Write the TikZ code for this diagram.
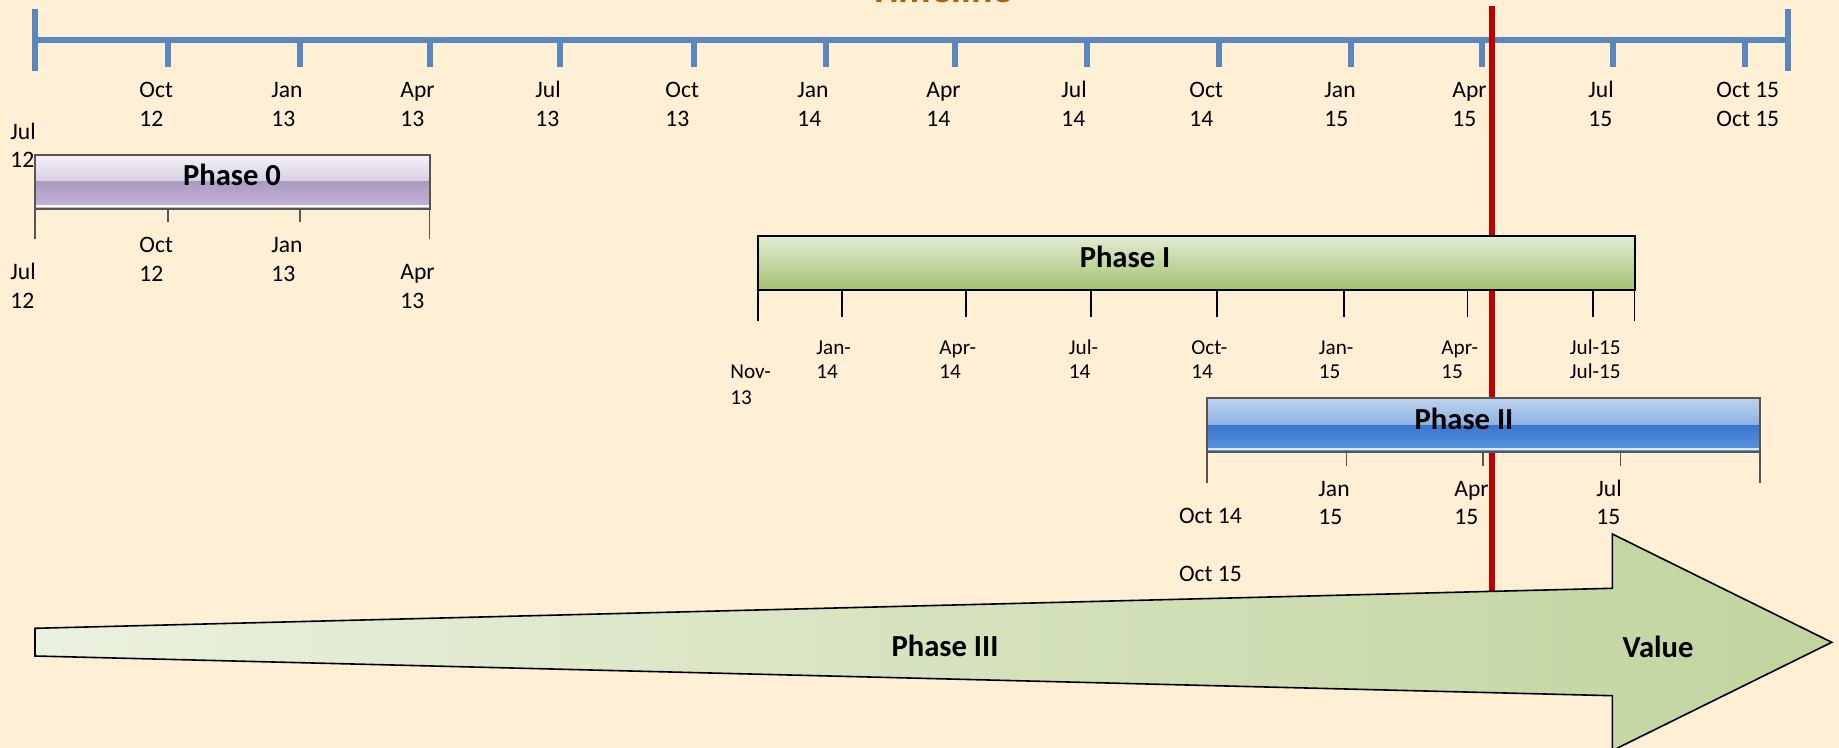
\documentclass[tikz,border=0pt]{standalone}
\usepackage{fontspec}
\setmainfont{Carlito}
\definecolor{bg}{HTML}{FFEFD4}
\definecolor{axisblue}{HTML}{5A87BD}
\definecolor{redline}{HTML}{C00000}
\definecolor{titlec}{HTML}{B85C10}
\definecolor{gray55}{HTML}{555555}
\definecolor{pzA}{HTML}{F4F2F8}
\definecolor{pzB}{HTML}{D6CEE1}
\definecolor{pzC}{HTML}{AC9BC0}
\definecolor{pzD}{HTML}{C4B5D8}
\definecolor{poA}{HTML}{E2ECD3}
\definecolor{poB}{HTML}{A3C170}
\definecolor{ptA}{HTML}{BDD3F0}
\definecolor{ptB}{HTML}{8DB1E2}
\definecolor{ptC}{HTML}{3A76CC}
\definecolor{ptD}{HTML}{5B96E6}
\definecolor{arA}{HTML}{EBF1DF}
\definecolor{arB}{HTML}{C1D49E}
\newcommand\twolbl[7]{% style, name, x, y, dy, line1, line2
  \node[#1] (#2a) at (#3,#4) {#6};
  \node[#1] (#2b) at (#3,#4+#5) {#7};}
\begin{document}
\begin{tikzpicture}[x=0.5pt,y=-0.5pt,
  lbl/.style={anchor=base west,inner sep=0pt,font=\fontsize{11.8}{14}\selectfont},
  slbl/.style={anchor=base west,inner sep=0pt,font=\fontsize{10.6}{13}\selectfont},
  phasetxt/.style={inner sep=0pt,font=\bfseries\fontsize{15.3}{18}\selectfont},
  mainaxis/.style={draw=axisblue,line width=3.25pt},
  subaxis/.style={draw=#1,line width=0.8pt},
]
\useasboundingbox (0,0) rectangle (1839,748);
\fill[bg] (0,0) rectangle (1839,748);
\clip (0,0) rectangle (1839,748);

% title (cut off at top)
\node[anchor=base,inner sep=0pt,text=titlec,font=\bfseries\fontsize{20}{24}\selectfont] (title) at (941,3) {Timeline};

% main axis
\draw[mainaxis] (35,40) -- (1788,40);
\draw[mainaxis] (35,9) -- (35,71);
\draw[mainaxis] (1788,9) -- (1788,71);
\foreach \x in {168,300,430,560,694,826,955,1087,1219,1351,1482,1613,1745}
  \draw[mainaxis] (\x,40) -- (\x,67);

% main axis labels
\twolbl{lbl}{m1}{139}{98}{29}{Oct}{12}
\twolbl{lbl}{m2}{271}{98}{29}{Jan}{13}
\twolbl{lbl}{m3}{400}{98}{29}{Apr}{13}
\twolbl{lbl}{m4}{535}{98}{29}{Jul}{13}
\twolbl{lbl}{m5}{665}{98}{29}{Oct}{13}
\twolbl{lbl}{m6}{797}{98}{29}{Jan}{14}
\twolbl{lbl}{m7}{926}{98}{29}{Apr}{14}
\twolbl{lbl}{m8}{1061}{98}{29}{Jul}{14}
\twolbl{lbl}{m9}{1189}{98}{29}{Oct}{14}
\twolbl{lbl}{m10}{1324}{98}{29}{Jan}{15}
\twolbl{lbl}{m11}{1452}{98}{29}{Apr}{15}
\twolbl{lbl}{m12}{1588}{98}{29}{Jul}{15}
\twolbl{lbl}{m13}{1716}{98}{29}{Oct 15}{Oct 15}
\twolbl{lbl}{m0}{10}{140}{28}{Jul}{12}

% Phase 0 sub axis
\draw[subaxis=gray55] (35,209) -- (35,239);
\draw[subaxis=gray55] (429.5,209) -- (429.5,239);
\draw[subaxis=gray55] (168,209) -- (168,222);
\draw[subaxis=gray55] (300,209) -- (300,222);
\twolbl{lbl}{z1}{139}{253}{29}{Oct}{12}
\twolbl{lbl}{z2}{271}{253}{29}{Jan}{13}
\twolbl{lbl}{z0}{10}{280}{28}{Jul}{12}
\twolbl{lbl}{z3}{400}{280}{28}{Apr}{13}

% Phase I sub axis
\draw[subaxis=black] (758,290) -- (758,321);
\draw[subaxis=black] (1634.5,290) -- (1634.5,321);
\foreach \x in {842,966,1090.7,1217,1344,1467.5,1593}
  \draw[subaxis=black] (\x,290) -- (\x,317);
\twolbl{slbl}{o0}{730}{379}{25}{Nov-}{13}
\twolbl{slbl}{o1}{816}{354}{25}{Jan-}{14}
\twolbl{slbl}{o2}{939}{354}{25}{Apr-}{14}
\twolbl{slbl}{o3}{1068.5}{354}{25}{Jul-}{14}
\twolbl{slbl}{o4}{1191}{354}{25}{Oct-}{14}
\twolbl{slbl}{o5}{1318.5}{354}{25}{Jan-}{15}
\twolbl{slbl}{o6}{1441}{354}{25}{Apr-}{15}
\twolbl{slbl}{o7}{1569.5}{354}{25}{Jul-15}{Jul-15}

% Phase II sub axis
\draw[subaxis=gray55] (1207,452) -- (1207,483);
\draw[subaxis=gray55] (1760,452) -- (1760,483);
\foreach \x in {1346.4,1483,1620.6}
  \draw[subaxis=gray55] (\x,452) -- (\x,466);
\twolbl{lbl}{t1}{1318}{496}{28}{Jan}{15}
\twolbl{lbl}{t2}{1454}{496}{28}{Apr}{15}
\twolbl{lbl}{t3}{1596}{496}{28}{Jul}{15}
\node[lbl] (t0a) at (1178.6,523) {Oct 14};
\node[lbl] (t0b) at (1178.6,581) {Oct 15};

% today line
\draw[redline,line width=3pt] (1492,6) -- (1492,592);

% Phase 0 bar
\shade[top color=pzA,bottom color=pzB] (35,155) rectangle (429.5,182);
\shade[top color=pzC,bottom color=pzD] (35,182) rectangle (429.5,209);
\draw[white,line width=1pt] (36,206.5) -- (428.5,206.5);
\draw[gray55,line width=1pt] (35,155) rectangle (429.5,209);
\node[phasetxt] (p0) at (232,175) {Phase 0};

% Phase I bar
\shade[top color=poA,bottom color=poB,draw=black,line width=1pt] (758,236) rectangle (1634.5,290);
\node[phasetxt] (p1) at (1125,257) {Phase I};

% Phase II bar
\shade[top color=ptA,bottom color=ptB] (1207,398) rectangle (1760,425);
\shade[top color=ptC,bottom color=ptD] (1207,425) rectangle (1760,452);
\draw[white!80!ptD,line width=1pt] (1208,449) -- (1759,449);
\draw[gray55,line width=1pt] (1207,398) rectangle (1760,452);
\node[phasetxt] (p2) at (1464,419) {Phase II};

% Phase III arrow
\shade[left color=arA,right color=arB,draw=black,line width=0.8pt,line join=miter]
  (35,628.3) -- (1612.3,588.3) -- (1612.3,534) -- (1831.7,642.3) -- (1612.3,750.6)
  -- (1612.3,695.7) -- (35,656) -- cycle;
\node[phasetxt] (p3) at (945,646) {Phase III};
\node[phasetxt] (val) at (1658,646.7) {Value};
\end{tikzpicture}
\end{document}
